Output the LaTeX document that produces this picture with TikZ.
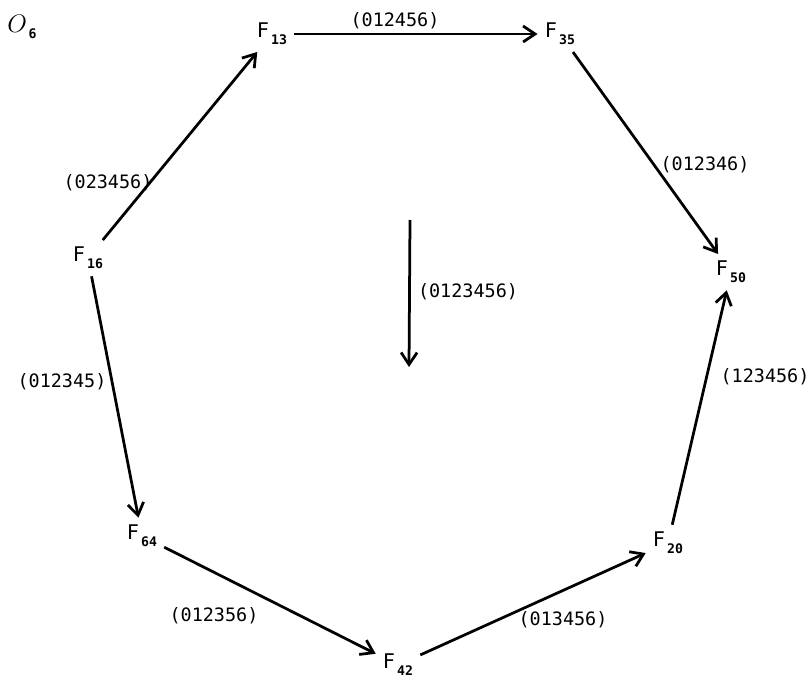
\documentclass[tikz,border=0pt]{standalone}
\usepackage{fontspec}
\setmonofont{DejaVu Sans Mono}
\usepackage{tikz}
\usetikzlibrary{arrows,arrows.meta}
\usetikzlibrary{positioning}
\tikzset{
    >={Straight Barb[length=2.4mm, width=3.2mm]},
    face/.style={inner sep=3pt, font=\fontsize{11.5}{13}\selectfont\ttfamily},
    perm/.style={inner sep=1pt, font=\fontsize{10.5}{12}\selectfont\ttfamily},
    flip/.style={draw=black, line width=.55mm, ->, shorten >=1pt, shorten <=1pt},
}
\newcommand{\fc}[1]{F\kern1.2pt\raisebox{-4pt}{\fontsize{7.5}{8}\selectfont\bfseries #1}}

\begin{document}
\begin{tikzpicture}[x=0.02cm, y=-0.02cm]

\useasboundingbox (0,0) rectangle (808,682);

		\node (o6) at (22,27) {\Large$O$\kern1pt\raisebox{-3pt}{\fontsize{7.5}{8}\selectfont\ttfamily\bfseries 6}};

		% faces
		\node[face] (f13) at (272,34) {\fc{13}};
		\node[face] (f35) at (560,34) {\fc{35}};
		\node[face] (f16) at (88,258) {\fc{16}};
		\node[face] (f50) at (731,272) {\fc{50}};
		\node[face] (f64) at (142,536) {\fc{64}};
		\node[face] (f42) at (398,665) {\fc{42}};
		\node[face] (f20) at (668,543) {\fc{20}};

		% flips
		\draw[flip] (f16) -- (f13);
		\draw[flip] (f13) -- (f35);
		\draw[flip] (f35) -- (f50);
		\draw[flip] (f16) -- (f64);
		\draw[flip] (f64) -- (f42);
		\draw[flip] (f42) -- (f20);
		\draw[flip] (f20) -- (f50);

		\coordinate (ctop) at (410,220);
		\coordinate (cbot) at (409,367);
		\draw[flip, shorten >=0pt, shorten <=0pt] (ctop) -- (cbot);

		% labels
		\node[perm] (p1) at (395,21) {(012456)};
		\node[perm] (p2) at (108,183) {(023456)};
		\node[perm] (p3) at (705,165) {(012346)};
		\node[perm] (p4) at (468,292) {(0123456)};
		\node[perm] (p5) at (62,382) {(012345)};
		\node[perm] (p6) at (765,377) {(123456)};
		\node[perm] (p7) at (214,616) {(012356)};
		\node[perm] (p8) at (563,620) {(013456)};

\end{tikzpicture}
\end{document}
